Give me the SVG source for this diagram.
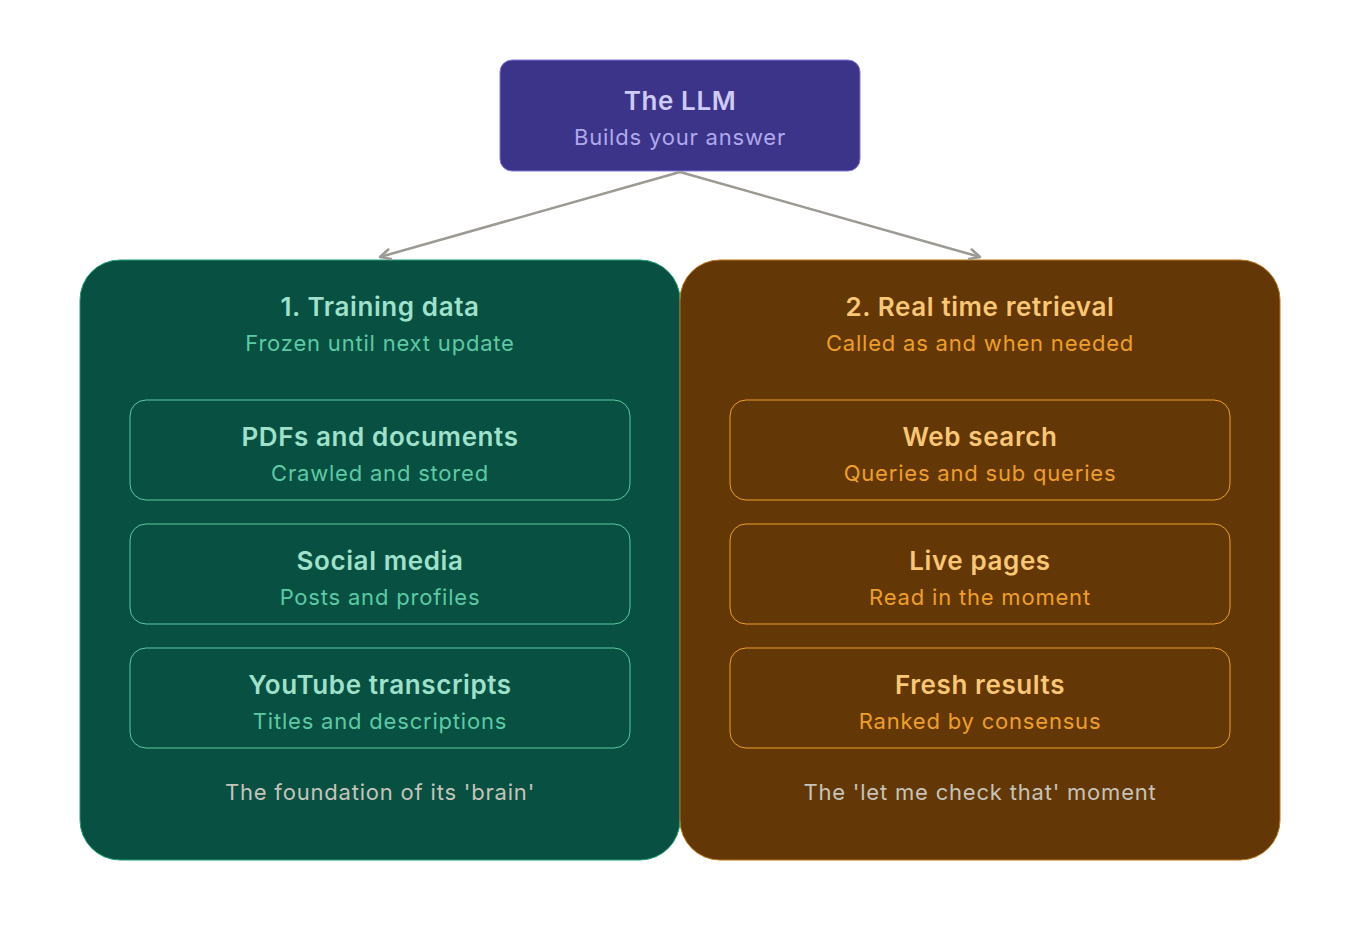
<svg xmlns="http://www.w3.org/2000/svg" width="1364" height="940" viewBox="0 0 1364 940">
<defs>
<style>
text{font-family:Inter,"Noto Sans","Liberation Sans",sans-serif;text-anchor:middle;dominant-baseline:central}
.t{font-size:26px;font-weight:600;letter-spacing:0.6px}
.s{font-size:22px;font-weight:400;letter-spacing:0.8px}
.f{font-size:22px;fill:#c6c4ba;letter-spacing:0.8px}
.gbox{fill:#085041;stroke:#5dcaa5;stroke-width:1}
.obox{fill:#633806;stroke:#ef9f27;stroke-width:1}
.gt{fill:#9fe1cb}.gs{fill:#5dcaa5}
.ot{fill:#fac775}.os{fill:#ef9f27}
.edge{stroke:#9c9a92;stroke-width:2.5;fill:none;marker-end:url(#ah)}
</style>
<marker id="ah" viewBox="0 0 12 12" refX="11" refY="6" markerWidth="12" markerHeight="12" orient="auto" markerUnits="userSpaceOnUse" overflow="visible">
<path d="M1,1 L11,6 L1,11" fill="none" stroke="#9c9a92" stroke-width="2.5" stroke-linecap="round" stroke-linejoin="round"/>
</marker>
</defs>
<rect width="1364" height="940" fill="#ffffff"/>
<g id="training">
<rect x="80" y="260" width="600" height="600" rx="40" fill="#085041" stroke="#1d9e75" stroke-width="1"/>
<text class="t gt" x="380" y="306">1. Training data</text>
<text class="s gs" x="380" y="343">Frozen until next update</text>
</g>
<g id="retrieval">
<rect x="680" y="260" width="600" height="600" rx="40" fill="#633806" stroke="#ba7517" stroke-width="1"/>
<text class="t ot" x="980" y="306">2. Real time retrieval</text>
<text class="s os" x="980" y="343">Called as and when needed</text>
</g>
<g id="llm">
<rect x="500" y="60" width="360" height="111" rx="12" fill="#3c3489" stroke="#7f77dd" stroke-width="1"/>
<text class="t" x="680" y="100" fill="#cecbf6">The LLM</text>
<text class="s" x="680" y="137" fill="#afa9ec">Builds your answer</text>
</g>
<g id="pdfs"><rect class="gbox" x="130" y="400" width="500" height="100" rx="16"/><text class="t gt" x="380" y="436">PDFs and documents</text><text class="s gs" x="380" y="473">Crawled and stored</text></g>
<g id="social"><rect class="gbox" x="130" y="524" width="500" height="100" rx="16"/><text class="t gt" x="380" y="560">Social media</text><text class="s gs" x="380" y="597">Posts and profiles</text></g>
<g id="youtube"><rect class="gbox" x="130" y="648" width="500" height="100" rx="16"/><text class="t gt" x="380" y="684">YouTube transcripts</text><text class="s gs" x="380" y="721">Titles and descriptions</text></g>
<g id="websearch"><rect class="obox" x="730" y="400" width="500" height="100" rx="16"/><text class="t ot" x="980" y="436">Web search</text><text class="s os" x="980" y="473">Queries and sub queries</text></g>
<g id="livepages"><rect class="obox" x="730" y="524" width="500" height="100" rx="16"/><text class="t ot" x="980" y="560">Live pages</text><text class="s os" x="980" y="597">Read in the moment</text></g>
<g id="fresh"><rect class="obox" x="730" y="648" width="500" height="100" rx="16"/><text class="t ot" x="980" y="684">Fresh results</text><text class="s os" x="980" y="721">Ranked by consensus</text></g>
<g id="footer-training"><text class="f" x="380" y="792">The foundation of its 'brain'</text></g>
<g id="footer-retrieval"><text class="f" x="980" y="792">The 'let me check that' moment</text></g>
<g id="connectors">
<path class="edge" d="M680,172 L380,257"/>
<path class="edge" d="M680,172 L980,257"/>
</g>
</svg>
